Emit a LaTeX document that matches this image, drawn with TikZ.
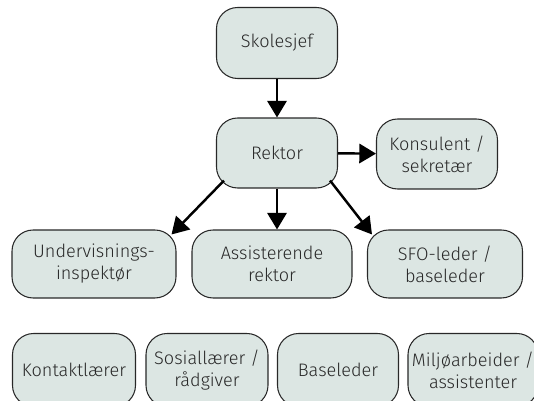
\documentclass[tikz,border=0pt]{standalone}
\usepackage{fontspec}
\setmainfont{Fira Sans Light}
\usetikzlibrary{arrows.meta}
\definecolor{boxfill}{RGB}{220,230,227}
\definecolor{boxline}{RGB}{40,40,40}

\begin{document}
\begin{tikzpicture}[x=0.02cm, y=-0.02cm,
      unit/.style={draw=boxline, fill=boxfill, rounded corners=12pt, line width=0.6pt,
        align=center, inner sep=2pt, font=\fontsize{10.3}{12.5}\selectfont, text=boxline},
      arr/.style={line width=1.4pt, -{Triangle[width=11pt, length=9.5pt]}}
    ]
      \useasboundingbox (0,0) rectangle (534,401);
      \clip (0,0) rectangle (534,401);

      % top levels
      \node[unit, minimum width=2.42cm, minimum height=1.42cm] (skolesjef) at (277,43) {Skolesjef};
      \node[unit, minimum width=2.42cm, minimum height=1.40cm] (rektor) at (277,153) {Rektor};
      \node[unit, minimum width=2.42cm, minimum height=1.40cm] (konsulent) at (437,154) {Konsulent /\\sekretær};

      % middle level
      \node[unit, minimum width=3.28cm, minimum height=1.36cm] (undervis) at (94,264) {Undervisnings-\\inspektør};
      \node[unit, minimum width=3.20cm, minimum height=1.36cm] (assrektor) at (272,264) {Assisterende\\rektor};
      \node[unit, minimum width=3.10cm, minimum height=1.36cm] (sfoleder) at (445,264) {SFO-leder /\\baseleder};

      % staff level
      \node[unit, minimum width=2.46cm, minimum height=1.46cm] (kontakt) at (74,370) {Kontaktlærer};
      \node[unit, minimum width=2.44cm, minimum height=1.46cm] (sosial) at (207,370) {Sosiallærer /\\rådgiver};
      \node[unit, minimum width=2.42cm, minimum height=1.46cm] (baseleder) at (338,370) {Baseleder};
      \node[unit, minimum width=2.60cm, minimum height=1.46cm] (miljo) at (473,370) {Miljøarbeider /\\assistenter};

      % lines of report
      \draw[arr] (skolesjef) -- (rektor);
      \draw[arr] (rektor) -- (konsulent);
      \draw[arr] (rektor.south) -- (rektor.south |- assrektor.north);
      \draw[arr] ([shift={(8,-8)}]rektor.south west) -- ([shift={(-5,5)}]undervis.north east);
      \draw[arr] ([shift={(-8,-8)}]rektor.south east) -- ([shift={(5,5)}]sfoleder.north west);
    \end{tikzpicture}
\end{document}
